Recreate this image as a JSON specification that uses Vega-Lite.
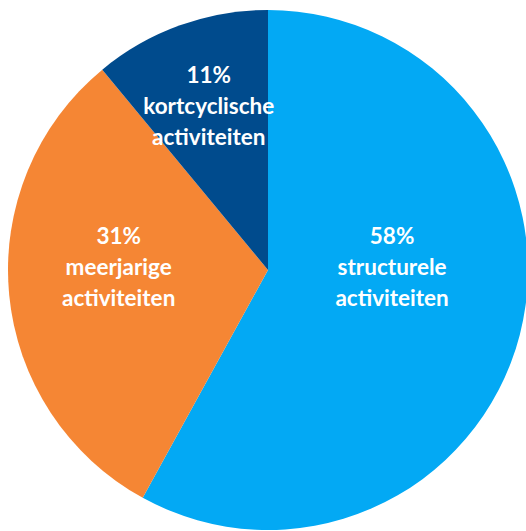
{
  "$schema": "https://vega.github.io/schema/vega-lite/v6.json",
  "autosize": "none",
  "width": 516,
  "height": 522,
  "padding": {"left": 10, "top": 9, "right": 0, "bottom": 0},
  "background": "white",
  "view": {"stroke": null},
  "data": {
    "values": [
      {"idx": 1, "cat": "structurele activiteiten", "value": 58, "label": "58%\nstructurele\nactiviteiten"},
      {"idx": 2, "cat": "meerjarige activiteiten", "value": 31, "label": "31%\nmeerjarige\nactiviteiten"},
      {"idx": 3, "cat": "kortcyclische activiteiten", "value": 11, "label": "11%\nkortcyclische\nactiviteiten"}
    ]
  },
  "encoding": {
    "theta": {"field": "value", "type": "quantitative", "stack": true},
    "order": {"field": "idx", "type": "ordinal"}
  },
  "layer": [
    {
      "mark": {"type": "arc", "outerRadius": 260},
      "encoding": {
        "color": {
          "field": "cat",
          "type": "nominal",
          "scale": {
            "domain": ["structurele activiteiten", "meerjarige activiteiten", "kortcyclische activiteiten"],
            "range": ["#03A9F4", "#F58634", "#004B8D"]
          },
          "legend": null
        }
      }
    },
    {
      "mark": {"type": "text", "radius": 125, "dx": 3, "dy": -64, "fill": "white", "font": "Lato", "fontWeight": "bold", "fontSize": 22.5, "lineBreak": "\n", "lineHeight": 31, "align": "center", "baseline": "middle"},
      "encoding": {
        "text": {"condition": {"test": "datum.idx === 1", "field": "label"}, "value": ""}
      }
    },
    {
      "mark": {"type": "text", "radius": 148, "dx": -2, "dy": -47, "fill": "white", "font": "Lato", "fontWeight": "bold", "fontSize": 22.5, "lineBreak": "\n", "lineHeight": 31, "align": "center", "baseline": "middle"},
      "encoding": {
        "text": {"condition": {"test": "datum.idx === 2", "field": "label"}, "value": ""}
      }
    },
    {
      "mark": {"type": "text", "radius": 172, "dx": -1, "dy": -32, "fill": "white", "font": "Lato", "fontWeight": "bold", "fontSize": 22.5, "lineBreak": "\n", "lineHeight": 31, "align": "center", "baseline": "middle"},
      "encoding": {
        "text": {"condition": {"test": "datum.idx === 3", "field": "label"}, "value": ""}
      }
    }
  ]
}
